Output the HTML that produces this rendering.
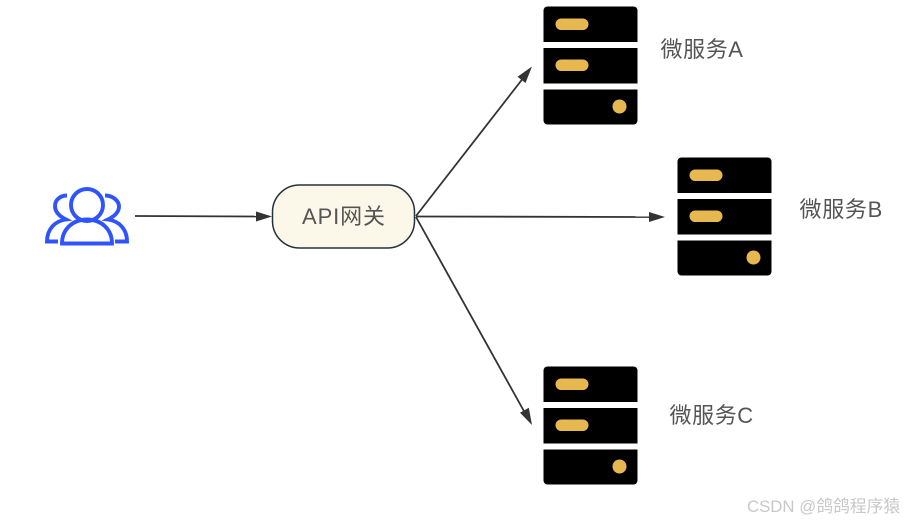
<!DOCTYPE html>
<html>
<head>
<meta charset="utf-8">
<style>
html,body{margin:0;padding:0;background:#fff;width:905px;height:521px;overflow:hidden}
svg{display:block}
text{font-family:"Liberation Sans","Noto Sans CJK SC",sans-serif}
</style>
</head>
<body>
<svg width="905" height="521" viewBox="0 0 905 521" xmlns="http://www.w3.org/2000/svg">
<defs>
<g id="srv">
<path d="M4 0H90a4 4 0 0 1 4 4V35.500H0V4a4 4 0 0 1 4-4z" fill="#000"/>
<rect x="0" y="41.500" width="94" height="35.500" fill="#000"/>
<path d="M0 83H94V114a4 4 0 0 1-4 4H4a4 4 0 0 1-4-4z" fill="#000"/>
<rect x="12" y="12" width="33" height="11.500" rx="5.700" fill="#e8b850"/>
<rect x="12" y="53" width="33" height="11.500" rx="5.700" fill="#e8b850"/>
<circle cx="76" cy="100" r="7" fill="#e8b850"/>
</g>
</defs>

<!-- users icon -->
<g fill="none" stroke="#2f54ff" stroke-width="3.900">
<circle cx="87" cy="205" r="16"/>
<path d="M62 243.500C62 229 73 219.500 87 219.500C101 219.500 112 229 112 243.500Z"/>
<path d="M67 195.500C59 195.500 55 201 55 206C55 212 59 216 66 219.500C55 221 47 229 47 241.500H58"/>
<path d="M105 195.500C113 195.500 119 201 119 206.500C119 212 115 216 108 219.500C119 221 127 229 127 241.500H115"/>
</g>

<!-- connectors -->
<g stroke="#333" stroke-width="1.800" fill="none">
<line x1="135" y1="216" x2="260" y2="216.500"/>
<line x1="416" y1="216" x2="524" y2="77"/>
<line x1="416" y1="216.500" x2="651" y2="217"/>
<line x1="416" y1="217" x2="525" y2="413"/>
</g>
<g fill="#333">
<polygon points="272,216.500 256,211.500 256,221.500"/>
<polygon points="532,66.500 525.500,83 517.500,76.800"/>
<polygon points="665,217 649,212 649,222"/>
<polygon points="532,425 520,412.700 528.800,407.800"/>
</g>

<!-- gateway -->
<rect x="272.500" y="185" width="142" height="63" rx="27" fill="#fbf8ea" stroke="#28313b" stroke-width="1.500"/>
<text x="302" y="224" font-size="22" letter-spacing="0.900" fill="#555">API网关</text>

<!-- servers -->
<use href="#srv" x="543.500" y="6.500"/>
<use href="#srv" x="677.500" y="157.500"/>
<use href="#srv" x="543.500" y="366.500"/>

<!-- labels -->
<text x="660.500" y="57" font-size="22" letter-spacing="0.600" fill="#555">微服务A</text>
<text x="799.500" y="217" font-size="22" letter-spacing="0.700" fill="#555">微服务B</text>
<text x="669.500" y="423" font-size="22" letter-spacing="0.600" fill="#555">微服务C</text>

<text x="747" y="512" font-size="16.800" fill="#c8c8c8">CSDN @鸽鸽程序猿</text>
</svg>
</body>
</html>
